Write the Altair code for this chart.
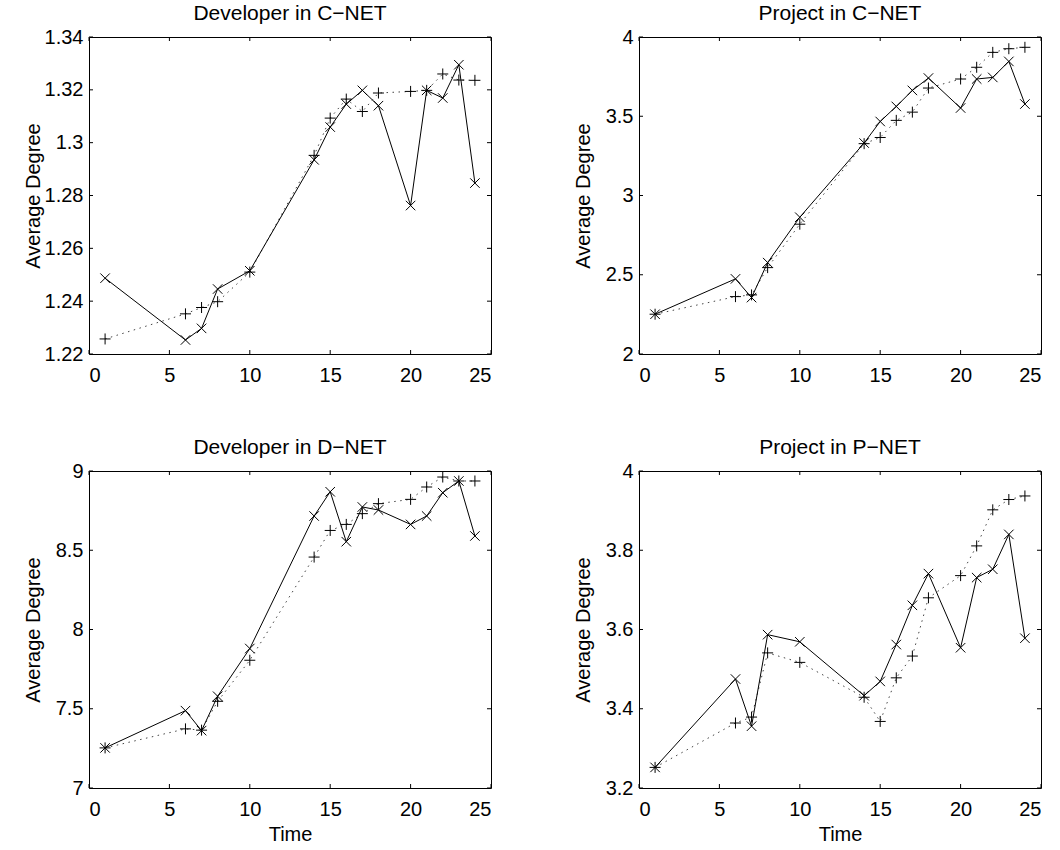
import altair as alt
import pandas as pd

# Time steps at which the average degree was sampled
T = [1, 6, 7, 8, 10, 14, 15, 16, 17, 18, 20, 21, 22, 23, 24]

# Developer in C-NET
dev_c_a = [1.2487, 1.2253, 1.2297, 1.2446, 1.2515, 1.2935, 1.3059, 1.3146, 1.3198, 1.3140, 1.2762, 1.3198, 1.3169, 1.3295, 1.2847]
dev_c_b = [1.2257, 1.2352, 1.2376, 1.2398, 1.2510, 1.2952, 1.3093, 1.3165, 1.3118, 1.3188, 1.3194, 1.3198, 1.3260, 1.3237, 1.3236]

# Project in C-NET
prj_c_a = [2.251, 2.474, 2.356, 2.577, 2.863, 3.331, 3.467, 3.562, 3.663, 3.741, 3.552, 3.735, 3.745, 3.846, 3.577]
prj_c_b = [2.251, 2.362, 2.373, 2.545, 2.819, 3.327, 3.366, 3.474, 3.526, 3.678, 3.735, 3.809, 3.903, 3.926, 3.935]

# Developer in D-NET
dev_d_a = [7.253, 7.488, 7.362, 7.579, 7.880, 8.716, 8.869, 8.554, 8.773, 8.754, 8.663, 8.716, 8.863, 8.937, 8.590]
dev_d_b = [7.253, 7.373, 7.365, 7.547, 7.806, 8.457, 8.625, 8.663, 8.731, 8.794, 8.821, 8.899, 8.962, 8.937, 8.937]

# Project in P-NET
prj_p_a = [3.252, 3.475, 3.356, 3.587, 3.569, 3.433, 3.469, 3.562, 3.661, 3.741, 3.554, 3.731, 3.752, 3.840, 3.578]
prj_p_b = [3.252, 3.364, 3.379, 3.541, 3.517, 3.429, 3.368, 3.478, 3.533, 3.680, 3.736, 3.811, 3.902, 3.928, 3.937]

X_TICKS = [0, 5, 10, 15, 20, 25]
Y_TICKS_DEV_C = [1.22, 1.24, 1.26, 1.28, 1.30, 1.32, 1.34]
Y_TICKS_PRJ_C = [2, 2.5, 3, 3.5, 4]
Y_TICKS_DEV_D = [7, 7.5, 8, 8.5, 9]
Y_TICKS_PRJ_P = [3.2, 3.4, 3.6, 3.8, 4]

W, H = 402, 317
FONT = "Liberation Sans"
TICK_LEN = 4

PLUS = "M-1,0L1,0M0,-1L0,1"
CROSS = "M-1,-1L1,1M-1,1L1,-1"


def panel(title, a, b, ydom, yticks, bottom):
    df = pd.DataFrame({"t": T, "a": a, "b": b})
    xs = alt.Scale(domain=[0, 25], nice=False, zero=False)
    ys = alt.Scale(domain=ydom, nice=False, zero=False)

    xkw = dict(values=X_TICKS, format="~g", labelPadding=11)
    if bottom:
        xkw.update(title="Time", titleY=52, titleBaseline="alphabetic")
    else:
        xkw.update(title="")
    xaxis = alt.Axis(**xkw)
    yaxis = alt.Axis(values=yticks, format="~g", labelPadding=6,
                     title="Average Degree", titleX=-56, titleY=H / 2,
                     titleAngle=270, titleAlign="center", titleBaseline="middle")

    X = alt.X("t:Q", scale=xs, axis=xaxis)

    dotted = alt.Chart(df).mark_line(color="#444", strokeWidth=1, strokeDash=[1.5, 4.5]).encode(
        x=X, y=alt.Y("b:Q", scale=ys, axis=yaxis))
    solid = alt.Chart(df).mark_line(color="black", strokeWidth=1).encode(
        x=X, y=alt.Y("a:Q", scale=ys, axis=yaxis))
    plus = alt.Chart(df).mark_point(shape=PLUS, size=121, filled=False, stroke="black",
                                    strokeWidth=1, opacity=1).encode(
        x=X, y=alt.Y("b:Q", scale=ys, axis=yaxis))
    cross = alt.Chart(df).mark_point(shape=CROSS, size=90, filled=False, stroke="black",
                                     strokeWidth=1, opacity=1).encode(
        x=X, y=alt.Y("a:Q", scale=ys, axis=yaxis))

    # inward ticks on all four sides of the box
    xt = pd.DataFrame({"t": X_TICKS})
    yt = pd.DataFrame({"a": yticks})
    tick_x_bottom = alt.Chart(xt).mark_rule(color="black", strokeWidth=1).encode(
        x=X, y=alt.value(H), y2=alt.value(H - TICK_LEN))
    tick_x_top = alt.Chart(xt).mark_rule(color="black", strokeWidth=1).encode(
        x=X, y=alt.value(0), y2=alt.value(TICK_LEN))
    tick_y_left = alt.Chart(yt).mark_rule(color="black", strokeWidth=1).encode(
        y=alt.Y("a:Q", scale=ys, axis=yaxis), x=alt.value(0), x2=alt.value(TICK_LEN))
    tick_y_right = alt.Chart(yt).mark_rule(color="black", strokeWidth=1).encode(
        y=alt.Y("a:Q", scale=ys, axis=yaxis), x=alt.value(W - TICK_LEN), x2=alt.value(W))

    # panel heading above the box
    heading = alt.Chart(pd.DataFrame({"label": [title]})).mark_text(
        font=FONT, fontSize=21, color="black", align="center", baseline="alphabetic",
    ).encode(text="label:N", x=alt.value(W / 2), y=alt.value(-17))

    return alt.layer(
        dotted, solid, plus, cross,
        tick_x_bottom, tick_x_top, tick_y_left, tick_y_right, heading,
    ).properties(width=W, height=H)


p1 = panel("Developer in C\u2212NET", dev_c_a, dev_c_b, [1.22, 1.34], Y_TICKS_DEV_C, False)
p2 = panel("Project in C\u2212NET", prj_c_a, prj_c_b, [2, 4], Y_TICKS_PRJ_C, False)
p3 = panel("Developer in D\u2212NET", dev_d_a, dev_d_b, [7, 9], Y_TICKS_DEV_D, True)
p4 = panel("Project in P\u2212NET", prj_p_a, prj_p_b, [3.2, 4], Y_TICKS_PRJ_P, True)

chart = alt.concat(
    p1, p2, p3, p4, columns=2,
    spacing={"row": 117, "column": 148}, bounds="flush",
).properties(
    padding={"left": 22, "top": 2, "right": 5, "bottom": 5},
    background="white",
).configure_view(
    stroke="black", strokeWidth=1,
).configure_axis(
    domain=False, ticks=False, grid=False,
    labelFont=FONT, labelFontSize=20, labelColor="black",
    titleFont=FONT, titleFontSize=20, titleFontWeight="normal", titleColor="black",
)

chart.save("out.html", embed_options={"renderer": "svg", "actions": False})
